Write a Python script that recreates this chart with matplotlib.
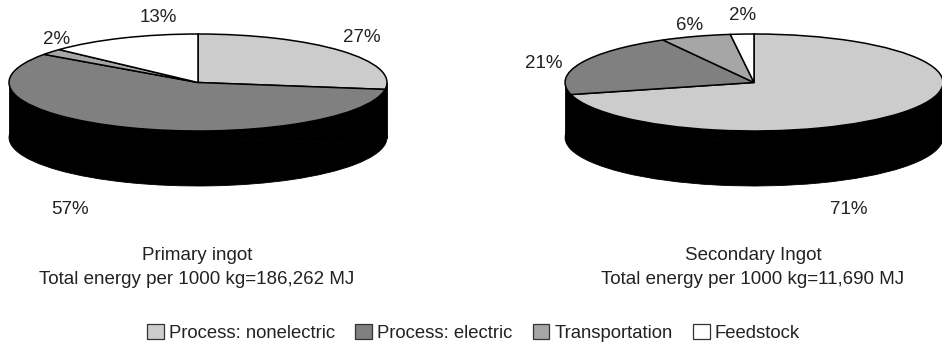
import matplotlib
matplotlib.use("Agg")
import matplotlib.pyplot as plt
from matplotlib.patches import Patch

plt.rcParams['font.family'] = ['Liberation Sans', 'DejaVu Sans']

categories = ["Process: nonelectric", "Process: electric", "Transportation", "Feedstock"]
primary_values = [27, 57, 2, 13]
secondary_values = [71, 21, 6, 2]
primary_title = ["Primary ingot", "Total energy per 1000 kg=186,262 MJ"]
secondary_title = ["Secondary Ingot", "Total energy per 1000 kg=11,690 MJ"]

colors = ["#cccccc", "#808080", "#a6a6a6", "#ffffff"]
W, H = 942, 343
RX, RY, DEPTH = 189, 48.5, 55  # pixels
TEXT = "#222222"
FS = 13.5


def pie3d(fig, cx, cy, values):
    # axes spans the top ellipse plus the extruded side, y unit = RY
    bottom = cy + RY + DEPTH
    ax = fig.add_axes([(cx - RX) / W, 1 - bottom / H, 2 * RX / W, (bottom - (cy - RY)) / H])
    d = DEPTH / RY
    ax.pie(values, center=(0, -d), radius=1, startangle=90, counterclock=False,
           colors=["black"] * len(values),
           wedgeprops={"edgecolor": "black", "linewidth": 0.6, "clip_on": False})
    ax.fill_between([-1, 1], [0, 0], [-d, -d], color="black", linewidth=0.6, clip_on=False)
    ax.pie(values, center=(0, 0), radius=1, startangle=90, counterclock=False,
           colors=colors, wedgeprops={"edgecolor": "black", "linewidth": 1.1, "clip_on": False})
    ax.set_aspect("auto")
    ax.set_xlim(-1, 1)
    ax.set_ylim(-1 - d, 1)
    return ax


def label(x, y, s):
    fig.text(x / W, 1 - y / H, s, ha="center", va="center", fontsize=FS, color=TEXT)


fig = plt.figure(figsize=(W / 100, H / 100), dpi=100, facecolor="white")

pie3d(fig, 198, 82.5, primary_values)
pie3d(fig, 754, 82.5, secondary_values)

primary_pos = [(362, 38), (70, 210), (57, 39), (158, 17)]
secondary_pos = [(849, 209), (544, 64), (690, 26), (743, 16)]
for v, p in zip(primary_values, primary_pos):
    label(p[0], p[1], f"{v}%")
for v, p in zip(secondary_values, secondary_pos):
    label(p[0], p[1], f"{v}%")

label(197, 256, primary_title[0])
label(197, 280, primary_title[1])
label(753, 256, secondary_title[0])
label(753, 280, secondary_title[1])

handles = [Patch(facecolor=c, edgecolor="#333333", linewidth=0.9) for c in colors]
fig.legend(handles, categories, ncol=4, loc="center", bbox_to_anchor=(473.5 / W, 1 - 333 / H),
           frameon=False, fontsize=13.3, labelcolor=TEXT, handlelength=0.9, handleheight=0.9,
           handletextpad=0.27, columnspacing=1.1, borderpad=0, borderaxespad=0)

fig.savefig("out.png", dpi=100, facecolor="white")
